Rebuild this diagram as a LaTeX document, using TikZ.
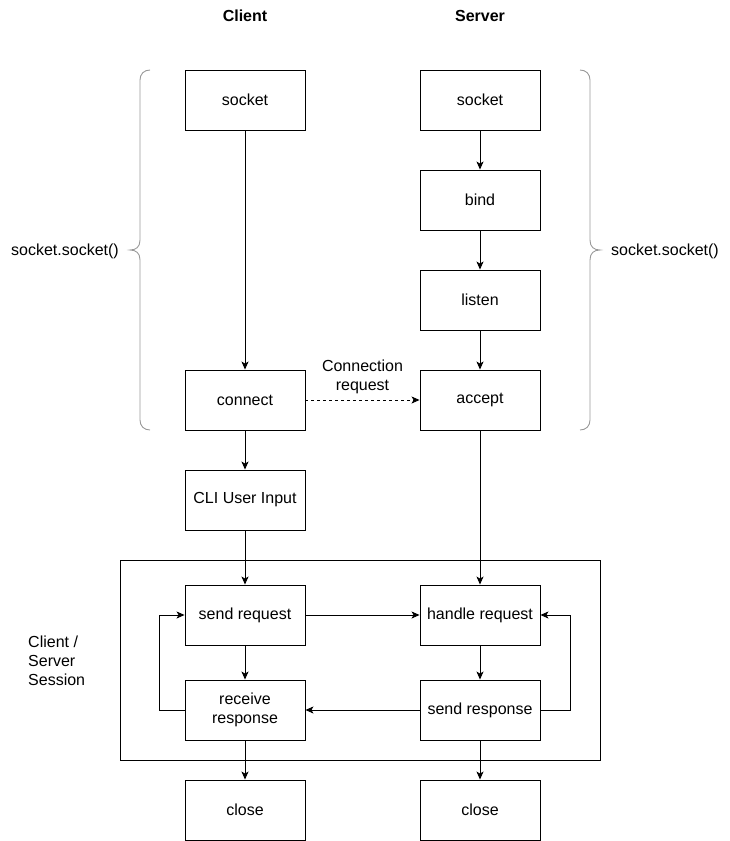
\documentclass[tikz,border=0pt]{standalone}
\usepackage{fontspec}
\setmainfont{Liberation Sans}
\usetikzlibrary{arrows.meta,decorations.pathreplacing}
\begin{document}
\begin{tikzpicture}[x=1pt,y=-1pt,
  box/.style={draw,line width=0.9pt,minimum width=120pt,minimum height=60pt,inner sep=0pt,align=center,font=\fontsize{16}{19}\selectfont},
  lbl/.style={font=\fontsize{16}{19}\selectfont,align=center,inner sep=0pt},
  arr/.style={-{Stealth[length=8pt,width=7pt,inset=2pt]},line width=0.9pt},
  brc/.style={draw=gray!80,line width=0.9pt}]
\useasboundingbox (0,0) rectangle (730,841);
% titles
\node[lbl,font=\fontsize{16}{19}\selectfont\bfseries] (tc) at (245,16) {Client};
\node[lbl,font=\fontsize{16}{19}\selectfont\bfseries] (ts) at (480,16) {Server};
% session frame
\node[draw,line width=0.9pt,minimum width=480pt,minimum height=200pt,inner sep=0pt] (sess) at (360,660) {};
% client
\node[box] (csock) at (245,100) {socket};
\node[box] (conn) at (245,400) {connect};
\node[box] (cli) at (245,500) {CLI User Input};
\node[box] (sreq) at (245,615) {send request};
\node[box] (rresp) at (245,710) {receive\\response};
\node[box] (cclose) at (245,810) {close};
% server
\node[box] (ssock) at (480,100) {socket};
\node[box] (bind) at (480,200) {bind};
\node[box] (listen) at (480,300) {listen};
\node[box] (acc) at (480,400) {accept};
\node[box] (hreq) at (480,615) {handle request};
\node[box] (sresp) at (480,710) {send response};
\node[box] (sclose) at (480,810) {close};
% arrows
\draw[arr] (csock) -- (conn);
\draw[arr] (conn) -- (cli);
\draw[arr] (cli) -- (sreq);
\draw[arr] (sreq) -- (rresp);
\draw[arr] (rresp) -- (cclose);
\draw[arr] (ssock) -- (bind);
\draw[arr] (bind) -- (listen);
\draw[arr] (listen) -- (acc);
\draw[arr] (acc) -- (hreq);
\draw[arr] (hreq) -- (sresp);
\draw[arr] (sresp) -- (sclose);
\draw[arr,dashed] (conn) -- node[lbl,above=6pt] (creq) {Connection\\request} (acc);
\draw[arr] (sreq) -- (hreq);
\draw[arr] (sresp) -- (rresp);
\draw[arr] (rresp.west) -- ++(-25,0) |- (sreq.west);
\draw[arr] (sresp.east) -- ++(30,0) |- (hreq.east);
% braces
\draw[brc] (150,70) .. controls (144,70) and (140,74) .. (140,80) -- (140,240) .. controls (140,247) and (136,250) .. (130,250)
  .. controls (136,250) and (140,253) .. (140,260) -- (140,420) .. controls (140,426) and (144,430) .. (150,430);
\draw[brc] (580,70) .. controls (586,70) and (590,74) .. (590,80) -- (590,240) .. controls (590,247) and (594,250) .. (600,250)
  .. controls (594,250) and (590,253) .. (590,260) -- (590,420) .. controls (590,426) and (586,430) .. (580,430);
\node[lbl] (bl) at (65,251) {socket.socket()};
\node[lbl] (br) at (665,251) {socket.socket()};
\node[lbl,align=left,anchor=west,font=\fontsize{16}{19}\selectfont] (sl) at (28,661) {Client /\\Server\\Session};
\end{tikzpicture}
\end{document}
